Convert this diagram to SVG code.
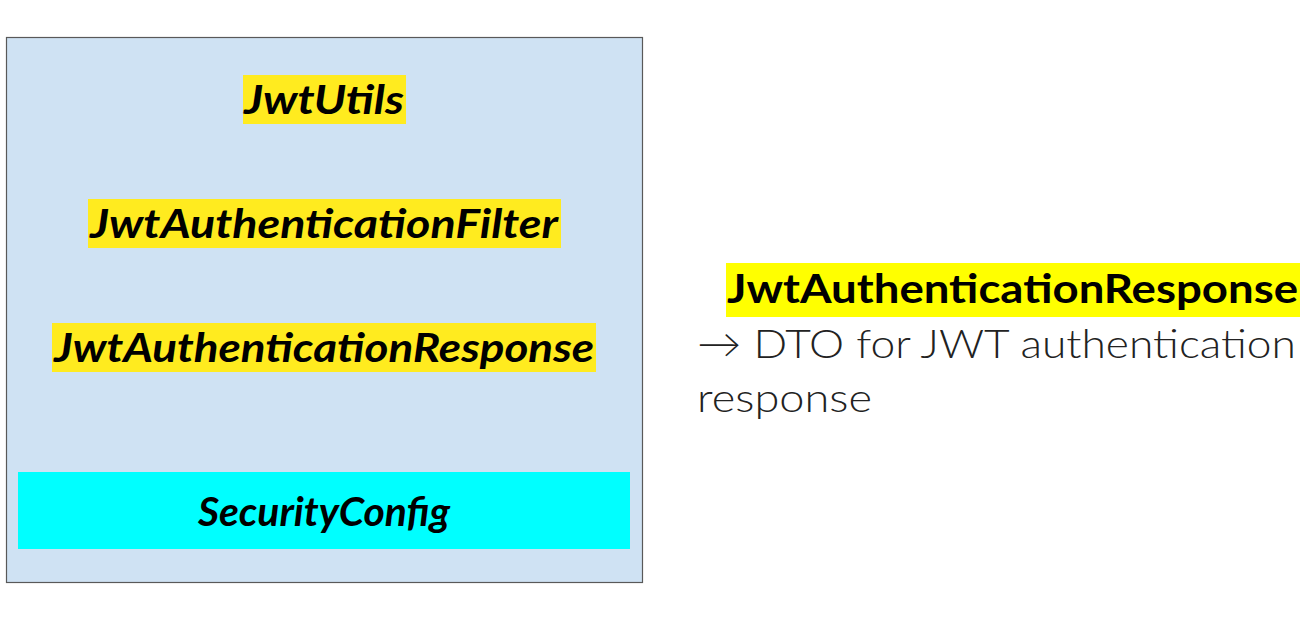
<svg xmlns="http://www.w3.org/2000/svg" width="1310" height="642" viewBox="0 0 1310 642">
<style>
.lbl{font-family:"Lato","Noto Sans",sans-serif;font-weight:700;font-style:italic;font-size:40px;fill:#000;text-anchor:middle}
.hl{fill:#ffeb1f}
.rt{font-family:"Lato","Noto Sans",sans-serif;font-weight:300;font-size:40px;fill:#222}
</style>
<rect width="1310" height="642" fill="#fff"/>
<g id="container">
<rect x="6.5" y="37.5" width="636" height="545" fill="#cfe2f3" stroke="#595959" stroke-width="1.2"/>
</g>
<g id="jwtutils">
<rect class="hl" x="243" y="75" width="163" height="49"/>
<text class="lbl" x="324" y="114" textLength="160" lengthAdjust="spacingAndGlyphs">JwtUtils</text>
</g>
<g id="jwtfilter">
<rect class="hl" x="88" y="199" width="473" height="49"/>
<text class="lbl" x="324" y="238" textLength="468" lengthAdjust="spacingAndGlyphs">JwtAuthenticationFilter</text>
</g>
<g id="jwtresponse">
<rect class="hl" x="52" y="323" width="544" height="49"/>
<text class="lbl" x="324" y="362" textLength="540" lengthAdjust="spacingAndGlyphs">JwtAuthenticationResponse</text>
</g>
<g id="securityconfig">
<rect x="18" y="472" width="612" height="77" fill="#00ffff"/>
<text class="lbl" x="324" y="526" textLength="252" lengthAdjust="spacingAndGlyphs">SecurityConfig</text>
</g>
<g id="connectors"></g>
<g id="description">
<rect x="726" y="263" width="574" height="54" fill="#ffff00"/>
<text x="727" y="303" font-family="Lato, 'Noto Sans', sans-serif" font-weight="700" font-size="40" fill="#000" textLength="571" lengthAdjust="spacingAndGlyphs">JwtAuthenticationResponse</text>
<text class="rt" x="697" y="358" textLength="599" lengthAdjust="spacingAndGlyphs">→ DTO for JWT authentication</text>
<text class="rt" x="697" y="412" textLength="175" lengthAdjust="spacingAndGlyphs">response</text>
</g>
</svg>
